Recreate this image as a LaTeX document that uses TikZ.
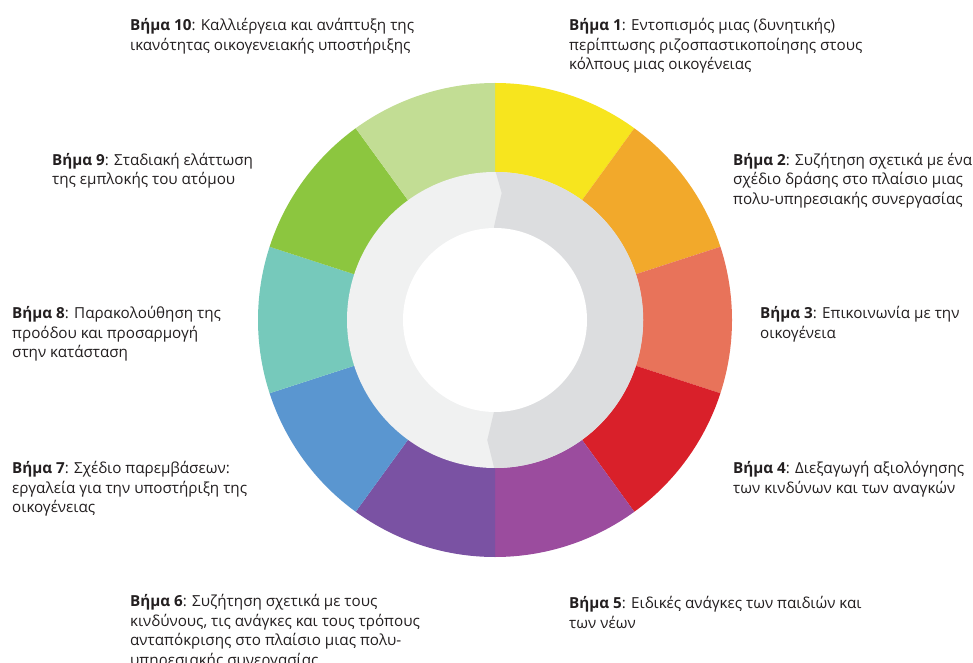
\documentclass[tikz,border=0pt]{standalone}
\usepackage{fontspec}
\setmainfont{Open Sans}
\usetikzlibrary{calc}
\definecolor{c1}{HTML}{F7E51E}
\definecolor{c2}{HTML}{F2A92B}
\definecolor{c3}{HTML}{E8735A}
\definecolor{c4}{HTML}{D9202A}
\definecolor{c5}{HTML}{9B4C9E}
\definecolor{c6}{HTML}{7A52A3}
\definecolor{c7}{HTML}{5A96D0}
\definecolor{c8}{HTML}{76C9BB}
\definecolor{c9}{HTML}{8CC63F}
\definecolor{c10}{HTML}{C2DD94}
\definecolor{ringlight}{HTML}{F0F1F1}
\definecolor{ringdark}{HTML}{DCDDDF}
\definecolor{txt}{HTML}{231F20}
\tikzset{
  steptext/.style={anchor=base west, align=left, inner sep=0pt, text=txt,
    font=\fontsize{15.2}{19.5}\selectfont},
}
\begin{document}
\begin{tikzpicture}[x=1pt,y=1pt]
\useasboundingbox[fill=white] (0,0) rectangle (973,662);
\coordinate (c) at (495,342);
% colored sectors
\foreach \k/\col in {1/c1,2/c2,3/c3,4/c4,5/c5,6/c6,7/c7,8/c8,9/c9,10/c10}{
  \pgfmathsetmacro{\aa}{90-36*(\k-1)}
  \pgfmathsetmacro{\ab}{90-36*\k}
  \fill[\col] (c) -- ($(c)+(\aa:237)$) arc[start angle=\aa, end angle=\ab, radius=237] -- cycle;
}
% gray ring
\fill[ringlight] (c) circle[radius=148];
\fill[ringdark] (495.7,490) arc[start angle=89.8, end angle=-90.4, radius=148]
  -- (487.3,222) -- (494,250.3) -- (494,435.3) -- (501.7,469) -- cycle;
\fill[white] (c) circle[radius=92];
% labels (anchor = baseline of the last line)
\node[steptext] (s1) at (569,592) {\textbf{Βήμα 1}: Εντοπισμός μιας (δυνητικής)\\περίπτωσης ριζοσπαστικοποίησης στους\\κόλπους μιας οικογένειας};
\node[steptext] (s2) at (733,457.5) {\textbf{Βήμα 2}: Συζήτηση σχετικά με ένα\\σχέδιο δράσης στο πλαίσιο μιας\\πολυ-υπηρεσιακής συνεργασίας};
\node[steptext] (s3) at (760,324) {\textbf{Βήμα 3}: Επικοινωνία με την\\οικογένεια};
\node[steptext] (s4) at (733,169) {\textbf{Βήμα 4}: Διεξαγωγή αξιολόγησης\\των κινδύνων και των αναγκών};
\node[steptext] (s5) at (569,34) {\textbf{Βήμα 5}: Ειδικές ανάγκες των παιδιών και\\των νέων};
\node[steptext] (s6) at (130,-3) {\textbf{Βήμα 6}: Συζήτηση σχετικά με τους\\κινδύνους, τις ανάγκες και τους τρόπους\\ανταπόκρισης στο πλαίσιο μιας πολυ-\\υπηρεσιακής συνεργασίας};
\node[steptext] (s7) at (12,149.5) {\textbf{Βήμα 7}: Σχέδιο παρεμβάσεων:\\εργαλεία για την υποστήριξη της\\οικογένειας};
\node[steptext] (s8) at (12,304.5) {\textbf{Βήμα 8}: Παρακολούθηση της\\προόδου και προσαρμογή\\στην κατάσταση};
\node[steptext] (s9) at (52,477) {\textbf{Βήμα 9}: Σταδιακή ελάττωση\\της εμπλοκής του ατόμου};
\node[steptext] (s10) at (130,611.5) {\textbf{Βήμα 10}: Καλλιέργεια και ανάπτυξη της\\ικανότητας οικογενειακής υποστήριξης};
\end{tikzpicture}
\end{document}
